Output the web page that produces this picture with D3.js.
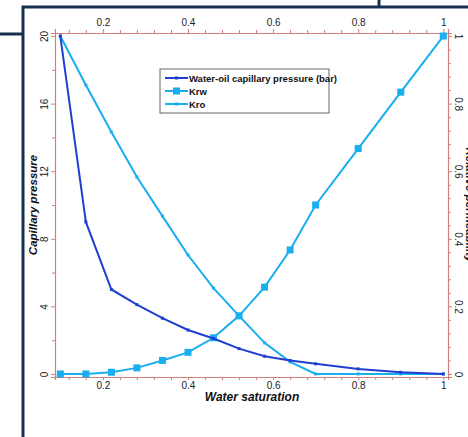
<!DOCTYPE html>
<html>
<head>
<meta charset="utf-8">
<script src="https://cdn.jsdelivr.net/npm/d3@7"></script>
<style>
  html, body { margin: 0; padding: 0; background: #fff; }
  svg { display: block; font-family: "Liberation Sans", Arial, sans-serif; }
</style>
</head>
<body>
<svg id="chart" width="468" height="437"></svg>
<script>
// Water saturation sample points
const saturation = [0.1, 0.16, 0.22, 0.28, 0.34, 0.40, 0.46, 0.52, 0.58, 0.64, 0.70, 0.80, 0.90, 1.0];
// Water-oil capillary pressure (bar)
const capPressure = [20, 9.0, 5.0, 4.1, 3.3, 2.6, 2.1, 1.5, 1.05, 0.8, 0.6, 0.3, 0.1, 0];
// Relative permeabilities
const krw = [0, 0, 0.005, 0.018, 0.04, 0.064, 0.107, 0.172, 0.257, 0.367, 0.5, 0.667, 0.834, 1.0];
const kro = [1.0, 0.855, 0.716, 0.583, 0.467, 0.352, 0.254, 0.172, 0.092, 0.036, 0, 0, 0, 0];

const xTicks = [0.2, 0.4, 0.6, 0.8, 1];
const leftTicks = [0, 4, 8, 12, 16, 20];
const rightTicks = [0, 0.2, 0.4, 0.6, 0.8, 1];
const seriesNames = ["Water-oil capillary pressure (bar)", "Krw", "Kro"];

const svg = d3.select("#chart");
const axisColor = "#d07f7a";
const dark = "#1f3fd2";
const light = "#18aef0";
const frame = "#15304f";

const plot = { left: 55, right: 448, top: 33, bottom: 377 };

const x = d3.scaleLinear().domain([0.0875, 1.011]).range([plot.left, plot.right]);
const yL = d3.scaleLinear().domain([-0.18, 20.18]).range([plot.bottom, plot.top]);
const yR = d3.scaleLinear().domain([-0.009, 1.009]).range([plot.bottom, plot.top]);

// Outer frame
svg.append("path")
  .attr("d", "M0,34 L23,34 M23,437 L23,7 L468,7 M379,0 L379,7")
  .attr("fill", "none").attr("stroke", frame).attr("stroke-width", 3);

// Minor tick values
const xMinor = d3.range(0.12, 1.0001, 0.04).filter(v => !xTicks.some(t => Math.abs(t - v) < 1e-6));
const lMinor = d3.range(2, 20, 4);
const rMinor = d3.range(0.04, 1, 0.04).filter(v => !rightTicks.some(t => Math.abs(t - v) < 1e-6));

function styleAxis(g) {
  g.select(".domain").attr("stroke", axisColor).attr("stroke-width", 1.2);
  g.selectAll(".tick line").attr("stroke", axisColor);
  g.selectAll("text").attr("fill", "#222").style("font-size", "10px");
}

// Bottom axis
const gB = svg.append("g").attr("transform", `translate(0,${plot.bottom})`)
  .call(d3.axisBottom(x).tickValues(xTicks).tickFormat(d3.format("~g")).tickSizeOuter(0).tickSize(3).tickPadding(2));
styleAxis(gB);
svg.append("g").attr("transform", `translate(0,${plot.bottom})`)
  .call(d3.axisBottom(x).tickValues(xMinor).tickFormat("").tickSize(3).tickSizeOuter(0))
  .call(g => { g.select(".domain").remove(); g.selectAll("line").attr("stroke", axisColor); });

// Top axis
const gT = svg.append("g").attr("transform", `translate(0,${plot.top})`)
  .call(d3.axisTop(x).tickValues(xTicks).tickFormat(d3.format("~g")).tickSizeOuter(0).tickSize(4).tickPadding(3));
styleAxis(gT);
svg.append("g").attr("transform", `translate(0,${plot.top})`)
  .call(d3.axisTop(x).tickValues(xMinor).tickFormat("").tickSize(3).tickSizeOuter(0))
  .call(g => { g.select(".domain").remove(); g.selectAll("line").attr("stroke", axisColor); });

// Left axis (rotated tick labels)
const gL = svg.append("g").attr("transform", `translate(${plot.left},0)`)
  .call(d3.axisLeft(yL).tickValues(leftTicks).tickSizeOuter(0).tickSize(4));
styleAxis(gL);
gL.selectAll(".tick text")
  .attr("x", 0).attr("dy", null).attr("y", 0)
  .attr("text-anchor", "middle")
  .attr("transform", "translate(-7,0) rotate(-90)");
svg.append("g").attr("transform", `translate(${plot.left},0)`)
  .call(d3.axisLeft(yL).tickValues(lMinor).tickFormat("").tickSize(3).tickSizeOuter(0))
  .call(g => { g.select(".domain").remove(); g.selectAll("line").attr("stroke", axisColor); });

// Right axis (rotated tick labels)
const gR = svg.append("g").attr("transform", `translate(${plot.right},0)`)
  .call(d3.axisRight(yR).tickValues(rightTicks).tickFormat(d3.format("~g")).tickSizeOuter(0).tickSize(4));
styleAxis(gR);
gR.selectAll(".tick text")
  .attr("x", 0).attr("dy", null).attr("y", 0)
  .attr("text-anchor", "middle")
  .attr("transform", "translate(7,0) rotate(90)");
svg.append("g").attr("transform", `translate(${plot.right},0)`)
  .call(d3.axisRight(yR).tickValues(rMinor).tickFormat("").tickSize(3).tickSizeOuter(0))
  .call(g => { g.select(".domain").remove(); g.selectAll("line").attr("stroke", axisColor); });

// Axis titles
svg.append("text")
  .attr("transform", `translate(37,${(plot.top + plot.bottom) / 2}) rotate(-90)`)
  .attr("text-anchor", "middle")
  .style("font-size", "11.5px").style("font-weight", "bold").style("font-style", "italic")
  .attr("fill", "#111")
  .text("Capillary pressure");

svg.append("text")
  .attr("x", 252).attr("y", 401)
  .attr("text-anchor", "middle")
  .style("font-size", "12px").style("font-weight", "bold").style("font-style", "italic")
  .attr("fill", "#111")
  .text("Water saturation");

svg.append("text")
  .attr("transform", `translate(466,${(plot.top + plot.bottom) / 2}) rotate(90)`)
  .attr("text-anchor", "middle")
  .style("font-size", "11.5px").style("font-weight", "bold").style("font-style", "italic")
  .attr("fill", "#111")
  .text("Relative permeability");

// Series
const idx = d3.range(saturation.length);
const lineL = d3.line().x(i => x(saturation[i])).y(i => yL(capPressure[i]));
const lineW = d3.line().x(i => x(saturation[i])).y(i => yR(krw[i]));
const lineO = d3.line().x(i => x(saturation[i])).y(i => yR(kro[i]));

svg.append("path").attr("d", lineO(idx)).attr("fill", "none").attr("stroke", light).attr("stroke-width", 2);
svg.selectAll(".mo").data(idx).join("rect")
  .attr("x", i => x(saturation[i]) - 1.5).attr("y", i => yR(kro[i]) - 1.5)
  .attr("width", 3).attr("height", 3).attr("fill", light);

svg.append("path").attr("d", lineW(idx)).attr("fill", "none").attr("stroke", light).attr("stroke-width", 2);
svg.selectAll(".mw").data(idx).join("rect")
  .attr("x", i => x(saturation[i]) - 3.5).attr("y", i => yR(krw[i]) - 3.5)
  .attr("width", 7).attr("height", 7).attr("fill", light);

svg.append("path").attr("d", lineL(idx)).attr("fill", "none").attr("stroke", dark).attr("stroke-width", 2);
svg.selectAll(".mc").data(idx).join("rect")
  .attr("x", i => x(saturation[i]) - 1.5).attr("y", i => yL(capPressure[i]) - 1.5)
  .attr("width", 3).attr("height", 3).attr("fill", dark);

// Legend
const lg = svg.append("g").attr("transform", "translate(160,69)");
lg.append("rect").attr("width", 169).attr("height", 44)
  .attr("fill", "#fff").attr("stroke", "#666").attr("stroke-width", 1);
const lgColors = [dark, light, light];
const lgMarker = [3, 7, 3];
seriesNames.forEach((name, i) => {
  const yy = 9 + i * 13;
  lg.append("line").attr("x1", 5).attr("x2", 28).attr("y1", yy).attr("y2", yy)
    .attr("stroke", lgColors[i]).attr("stroke-width", 2);
  lg.append("rect").attr("x", 16.5 - lgMarker[i] / 2).attr("y", yy - lgMarker[i] / 2)
    .attr("width", lgMarker[i]).attr("height", lgMarker[i]).attr("fill", lgColors[i]);
  lg.append("text").attr("x", 29).attr("y", yy + 3.5)
    .style("font-size", "9.5px").style("font-weight", "bold").attr("fill", "#111")
    .text(name);
});
</script>
</body>
</html>
